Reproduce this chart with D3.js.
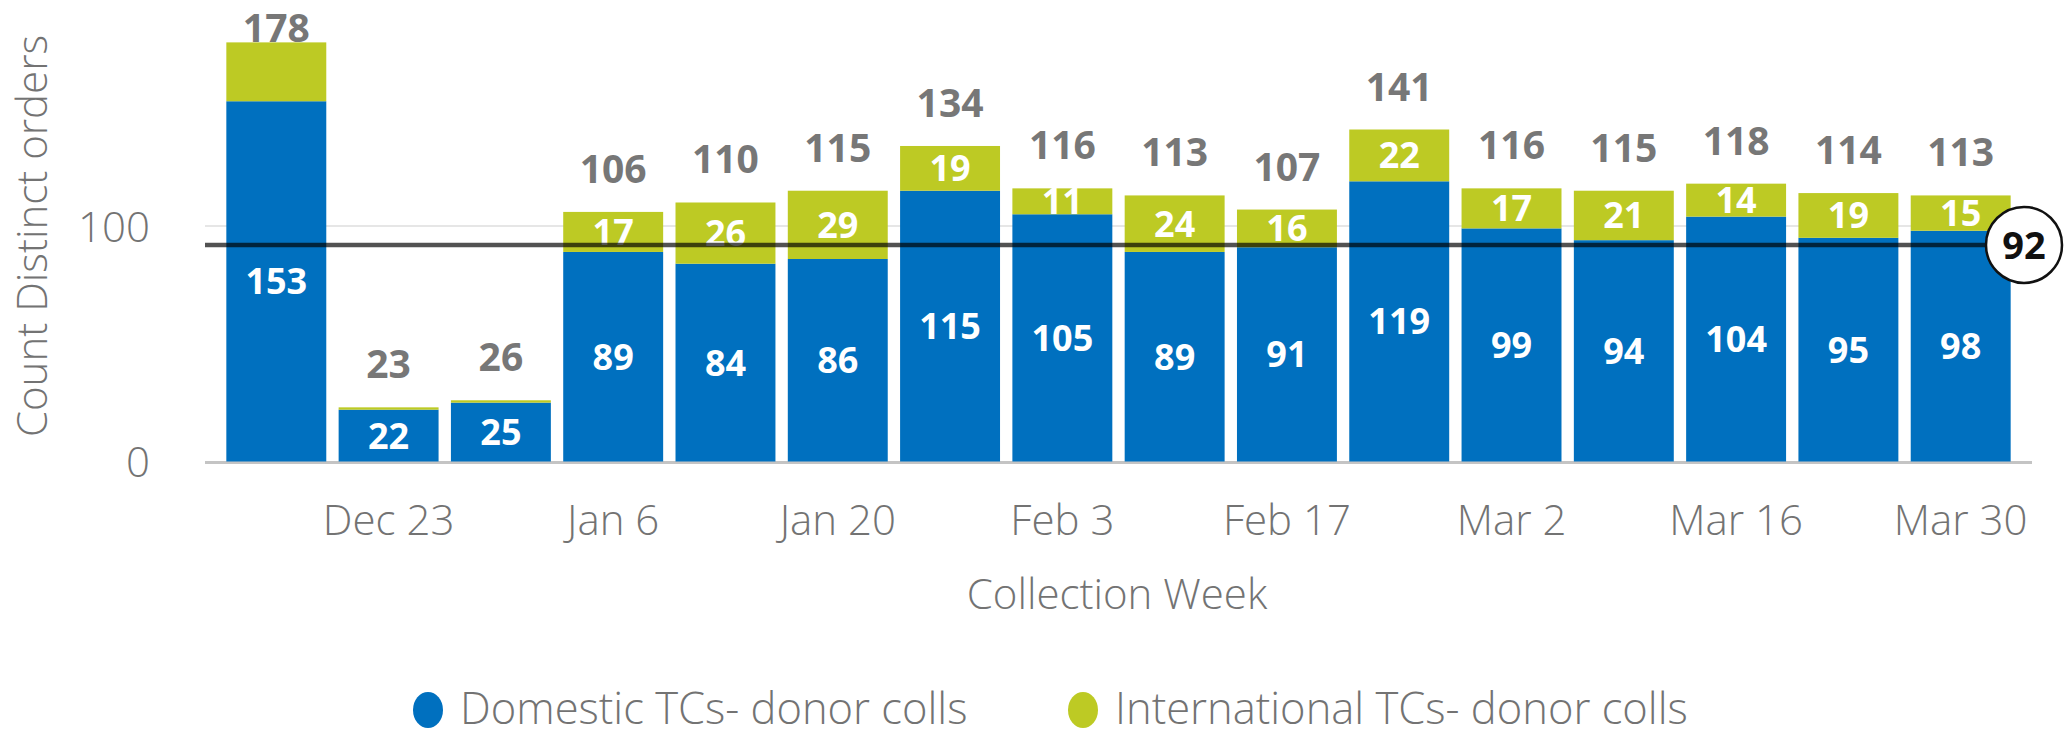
<!DOCTYPE html>
<html>
<head>
<meta charset="utf-8">
<script src="https://cdn.jsdelivr.net/npm/d3@7"></script>
<style>
body{margin:0;background:#fff;}
text{font-family:"Open Sans",sans-serif;}
</style>
</head>
<body>
<div id="chart"></div>
<script>
// weekly counts
var weeks = ["Dec 16","Dec 23","Dec 30","Jan 6","Jan 13","Jan 20","Jan 27","Feb 3",
             "Feb 10","Feb 17","Feb 24","Mar 2","Mar 9","Mar 16","Mar 23","Mar 30"];
var domestic = [153,22,25,89,84,86,115,105,89,91,119,99,94,104,95,98];
var international = [25,1,1,17,26,29,19,11,24,16,22,17,21,14,19,15];
var yTicks = [0,100];
var refValue = 92;
var seriesNames = ["Domestic TCs- donor colls","International TCs- donor colls"];
var colors = ["#0070bf","#bdca24"];

function init(){
	var w = 2067;
	var h = 737;

	var svg = d3.select("#chart")
				.append("svg")
				.attr("width",w)
				.attr("height",h);

	var x = d3.scaleBand()
				.domain(weeks)
				.range([205,2032])
				.paddingInner(0.11)
				.paddingOuter(0.19);
	var y = d3.scaleLinear()
				.domain([0,196])
				.range([461.5,0]);

	var rows = weeks.map(function(d,i){
		return {week:d, dom:domestic[i], intl:international[i], total:domestic[i]+international[i]};
	});

	// gridline at 100 and the zero baseline
	svg.append("line")
		.attr("x1",205).attr("x2",2032)
		.attr("y1",y(100)).attr("y2",y(100))
		.attr("stroke","#e6e6e6").attr("stroke-width",2);
	svg.append("line")
		.attr("x1",205).attr("x2",2032)
		.attr("y1",y(0)+1).attr("y2",y(0)+1)
		.attr("stroke","#c4c4c4").attr("stroke-width",3);

	// y axis
	var yAxis = svg.append("g")
		.attr("transform","translate(150,0)")
		.call(d3.axisLeft(y).tickValues(yTicks).tickSize(0).tickPadding(0));
	yAxis.select(".domain").remove();
	yAxis.selectAll("text")
		.attr("font-size",42)
		.attr("font-family","Open Sans")
		.attr("font-weight",300)
		.attr("fill","#737373")
		.attr("dy","0.36em");

	// x axis, every second week labelled
	var xAxis = svg.append("g")
		.attr("transform","translate(0,"+y(0)+")")
		.call(d3.axisBottom(x)
			.tickValues(weeks.filter(function(d,i){ return i%2==1; }))
			.tickSize(0).tickPadding(0));
	xAxis.select(".domain").remove();
	xAxis.selectAll("text")
		.attr("font-size",42)
		.attr("font-family","Open Sans")
		.attr("font-weight",300)
		.attr("fill","#737373")
		.attr("dy",null)
		.attr("y",73);

	// stacked bars
	svg.selectAll("rect.dom")
		.data(rows)
		.enter()
		.append("rect")
		.attr("class","dom")
		.attr("x",function(d){ return x(d.week); })
		.attr("y",function(d){ return y(d.dom); })
		.attr("width",x.bandwidth())
		.attr("height",function(d){ return y(0)-y(d.dom); })
		.attr("fill",colors[0]);

	svg.selectAll("rect.intl")
		.data(rows)
		.enter()
		.append("rect")
		.attr("class","intl")
		.attr("x",function(d){ return x(d.week); })
		.attr("y",function(d){ return y(d.total); })
		.attr("width",x.bandwidth())
		.attr("height",function(d){ return y(d.dom)-y(d.total); })
		.attr("fill",colors[1]);

	// totals above the bars (kept inside the view at the top)
	var topLimit = 42;
	function totalY(d){ return Math.max(y(d.total)-29, topLimit); }
	svg.selectAll("text.total")
		.data(rows)
		.enter()
		.append("text")
		.attr("class","total")
		.text(function(d){ return d.total; })
		.attr("x",function(d){ return x(d.week)+x.bandwidth()/2; })
		.attr("y",totalY)
		.attr("text-anchor","middle")
		.attr("font-size",39)
		.attr("font-weight","bold")
		.attr("fill","#777");

	// segment labels
	svg.selectAll("text.domlab")
		.data(rows)
		.enter()
		.append("text")
		.attr("class","domlab")
		.text(function(d){ return d.dom; })
		.attr("x",function(d){ return x(d.week)+x.bandwidth()/2; })
		.attr("y",function(d){ return (y(d.dom)+y(0))/2+13; })
		.attr("text-anchor","middle")
		.attr("font-size",36)
		.attr("font-weight","bold")
		.attr("fill","#fff");

	svg.selectAll("text.intllab")
		.data(rows.filter(function(d){ return d.intl>=10 && y(d.total)-29>topLimit; }))
		.enter()
		.append("text")
		.attr("class","intllab")
		.text(function(d){ return d.intl; })
		.attr("x",function(d){ return x(d.week)+x.bandwidth()/2; })
		.attr("y",function(d){ return (y(d.total)+y(d.dom))/2+13; })
		.attr("text-anchor","middle")
		.attr("font-size",36)
		.attr("font-weight","bold")
		.attr("fill","#fff");

	// reference line with its value badge
	var cx = 2024;
	svg.append("line")
		.attr("x1",205).attr("x2",cx)
		.attr("y1",y(refValue)).attr("y2",y(refValue))
		.attr("stroke","#000").attr("stroke-opacity",0.68).attr("stroke-width",4.5);
	svg.append("circle")
		.attr("cx",cx).attr("cy",y(refValue))
		.attr("r",38)
		.attr("fill","#fff")
		.attr("stroke","#111").attr("stroke-width",2.5);
	svg.append("text")
		.text(refValue)
		.attr("x",cx).attr("y",y(refValue)+14)
		.attr("text-anchor","middle")
		.attr("font-size",38)
		.attr("font-weight","bold")
		.attr("fill","#111");

	// axis titles
	svg.append("text")
		.text("Count Distinct orders")
		.attr("transform","translate(47,236) rotate(-90)")
		.attr("text-anchor","middle")
		.attr("font-size",42)
		.attr("font-weight",300)
		.attr("fill","#737373");
	svg.append("text")
		.text("Collection Week")
		.attr("x",1117).attr("y",609)
		.attr("text-anchor","middle")
		.attr("font-size",42)
		.attr("font-weight",300)
		.attr("fill","#737373");

	// legend
	var legendX = [428,1083];
	var legend = svg.selectAll("g.legend")
		.data(seriesNames)
		.enter()
		.append("g")
		.attr("class","legend")
		.attr("transform",function(d,i){ return "translate("+legendX[i]+",710)"; });
	legend.append("ellipse")
		.attr("rx",15).attr("ry",18)
		.attr("fill",function(d,i){ return colors[i]; });
	legend.append("text")
		.text(function(d){ return d; })
		.attr("x",32).attr("y",14)
		.attr("font-size",43.5)
		.attr("font-weight",300)
		.attr("fill","#737373");
}
window.onload = init;
</script>
</body>
</html>
